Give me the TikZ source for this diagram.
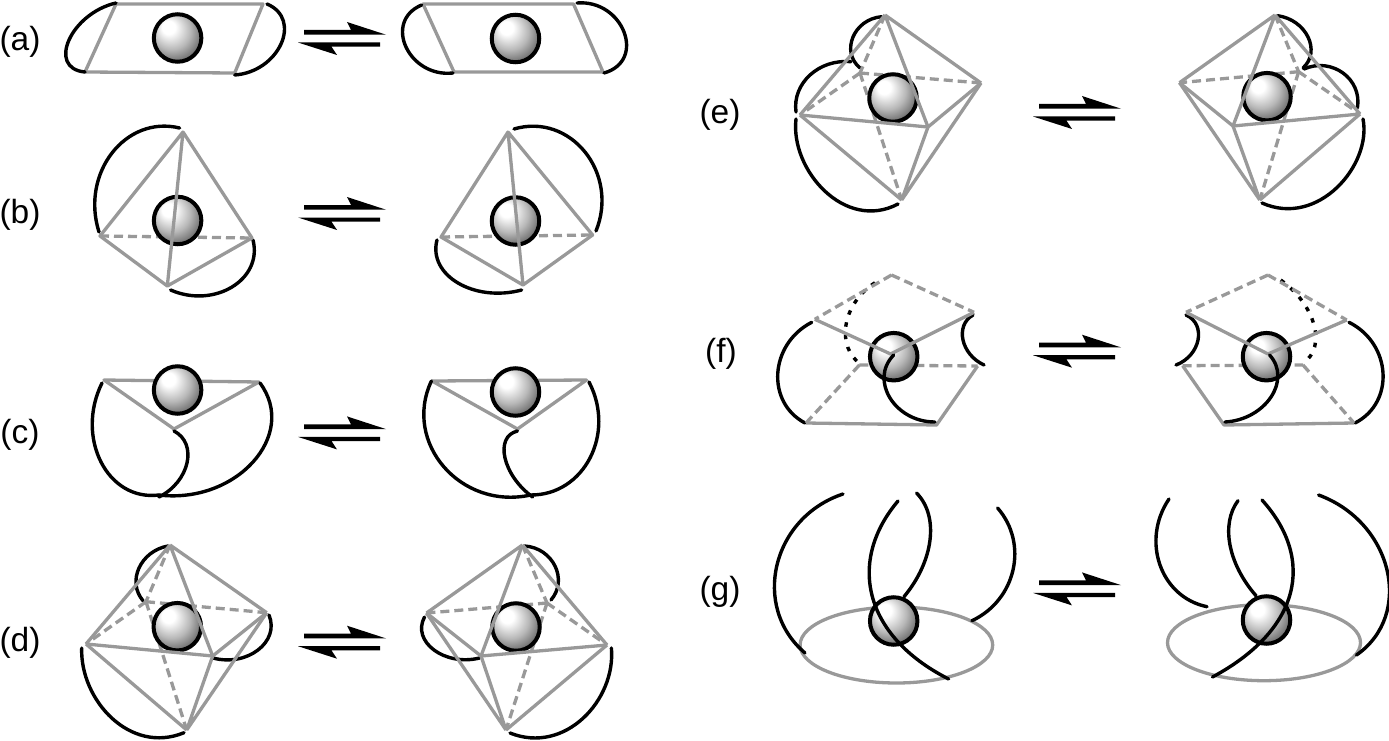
\documentclass[tikz,border=0pt]{standalone}
\usepackage{fontspec}
\setmainfont{Liberation Sans}
\definecolor{edgegray}{HTML}{999999}
\pgfdeclareradialshading{orb}{\pgfpoint{-11bp}{13bp}}{color(0bp)=(white); color(7bp)=(white); color(20bp)=(black!28); color(32bp)=(black!62); color(44bp)=(black!85); color(50bp)=(black!95)}
\tikzset{
  blk/.style={line width=3.4pt,black,line cap=round},
  blkdash/.style={line width=3.4pt,black,dash pattern=on 4.5pt off 8pt},
  solidedge/.style={line width=3.3pt,edgegray,line join=round},
  dashedge/.style={line width=3.3pt,edgegray,dash pattern=on 9pt off 5pt},
  orbnode/.style={circle,draw=black,line width=4pt,minimum size=47.5pt,inner sep=0pt,outer sep=0pt,shade,shading=orb},
  lab/.style={inner sep=0pt,font=\fontsize{33.5}{36}\selectfont,text=black},
  halfarrow/.style={fill=black,draw=none}
}
% equilibrium arrows, placed by their shift from row (a)
\newcommand{\eqarrows}[2]{%
  \begin{scope}[shift={(#1,#2)}]
    \fill[halfarrow] (304,30)--(351,30)--(347,22)--(386,34.7)--(304,34.7)--cycle;
    \fill[halfarrow] (380,42.5)--(298,42.5)--(337,55)--(331.5,46.7)--(380,46.7)--cycle;
  \end{scope}}
% single cubic from A through M to B
\newcommand{\ac}[7][blk]{%
  \pgfmathsetmacro\acR{veclen(#4-(#2+#6)/2,#5-(#3+#7)/2)/(veclen(#2-#6,#3-#7)/2)}%
  \pgfmathsetmacro\acL{1/6+min(1,\acR*\acR)/3}%
  \pgfmathsetmacro\acAx{4/3*#4-(#2+#6)/6+\acL*(#2-#6)}%
  \pgfmathsetmacro\acAy{4/3*#5-(#3+#7)/6+\acL*(#3-#7)}%
  \pgfmathsetmacro\acBx{4/3*#4-(#2+#6)/6-\acL*(#2-#6)}%
  \pgfmathsetmacro\acBy{4/3*#5-(#3+#7)/6-\acL*(#3-#7)}%
  \draw[#1] (#2,#3) .. controls (\acAx,\acAy) and (\acBx,\acBy) .. (#6,#7);}
% octahedron: a=apex r=right l=left f=front b=bottom h=hidden
\newcommand{\octadash}[1]{%
  \draw[dashedge] (#1a)--(#1h);
  \draw[dashedge] (#1h)--(#1l);
  \draw[dashedge] (#1h)--(#1r);
  \draw[dashedge] (#1h)--(#1b);}
\newcommand{\octasolid}[1]{%
  \draw[solidedge] (#1a)--(#1l) (#1a)--(#1r) (#1a)--(#1f);
  \draw[solidedge] (#1l)--(#1f) (#1f)--(#1r);
  \draw[solidedge] (#1l)--(#1b) (#1f)--(#1b) (#1r)--(#1b);}
\begin{document}
\begin{tikzpicture}[x=1pt,y=-1pt]
\path[use as bounding box] (0,0) rectangle (1389,741);
% labels
\node[lab] (la) at (20,42) {(a)};
\node[lab] (lb) at (20,215) {(b)};
\node[lab] (lc) at (20,435) {(c)};
\node[lab] (ld) at (20,643) {(d)};
\node[lab] (le) at (720,115) {(e)};
\node[lab] (lf) at (721,354) {(f)};
\node[lab] (lg) at (720,592) {(g)};
% arrows
\eqarrows{0}{0}\eqarrows{0}{175}\eqarrows{0}{394.4}\eqarrows{0}{603.7}
\eqarrows{735}{74}\eqarrows{735}{312.7}\eqarrows{735}{550.4}

% ---------- (a)
\coordinate (p1) at (116,4); \coordinate (p2) at (263,4); \coordinate (p3) at (234.7,73); \coordinate (p4) at (85,72);
\draw[solidedge] (p1)--(p2)--(p3)--(p4)--cycle;
\ac{116}{3}{69}{40}{85}{72}
\ac{267}{4}{281}{44}{234.7}{75}
\node[orbnode] (ba1) at (177.6,38) {};
\coordinate (q1) at (423,4); \coordinate (q2) at (573.5,4); \coordinate (q3) at (603,72); \coordinate (q4) at (454,72);
\draw[solidedge] (q1)--(q2)--(q3)--(q4)--cycle;
\ac{421.6}{5}{406}{47}{453}{73}
\ac{577}{3}{624}{32}{604}{73}
\node[orbnode] (ba2) at (515.5,38.5) {};

% ---------- (b)
\coordinate (b1a) at (183,132); \coordinate (b1l) at (100,236); \coordinate (b1r) at (252,238); \coordinate (b1b) at (167.3,286);
\ac{179.6}{128}{112}{153}{99}{232}
\ac{253}{240}{232}{287}{170.6}{290}
\draw[dashedge] (b1l)--(b1r);
\node[orbnode] (bb1) at (177.6,220.5) {};
\draw[solidedge] (b1a)--(b1l)--(b1b)--(b1r)--(b1a)--(b1b);
\coordinate (b2a) at (508,132); \coordinate (b2l) at (441,237); \coordinate (b2r) at (592.6,235); \coordinate (b2b) at (523,285);
\ac{514}{129}{585}{152}{596}{231}
\ac{437}{240}{458}{283}{521.6}{290}
\draw[dashedge] (b2l)--(b2r);
\node[orbnode] (bb2) at (515.5,221) {};
\draw[solidedge] (b2a)--(b2l)--(b2b)--(b2r)--(b2a)--(b2b);

% ---------- (c)
\coordinate (c1l) at (104,380); \coordinate (c1r) at (259,382); \coordinate (c1i) at (174,429);
\draw[solidedge] (c1l)--(c1r)--(c1i)--cycle;
\node[orbnode] (bc1) at (177.6,390) {};
\ac{102}{383}{101}{462}{159}{495}
\ac{260}{383}{253}{462}{159}{495}
\ac{174}{431}{187}{463}{159}{497}
\coordinate (c2l) at (432,381); \coordinate (c2r) at (586.5,380); \coordinate (c2i) at (517.5,429);
\draw[solidedge] (c2l)--(c2r)--(c2i)--cycle;
\node[orbnode] (bc2) at (515.5,392) {};
\ac{431.4}{381}{444}{467}{530.6}{495}
\ac{589}{382}{590}{458}{530.6}{495}
\ac{517.5}{431}{505}{458}{532.6}{497}

% ---------- (d)
\coordinate (d1a) at (170,545); \coordinate (d1r) at (266.7,612.7); \coordinate (d1l) at (86,644);
\coordinate (d1f) at (212.7,656); \coordinate (d1b) at (186.7,730); \coordinate (d1h) at (146,601.7);
\ac{168}{546}{139}{568}{143}{600.7}
\ac{269}{615}{258}{650}{213}{658}
\draw[blk] (81.7,648) .. controls (80,700) and (130,755) .. (184,732.7);
\octadash{d1}
\node[orbnode] (bd1) at (177.3,626.7) {};
\octasolid{d1}
\coordinate (d2a) at (522.4,545); \coordinate (d2r) at (607,645); \coordinate (d2l) at (426.5,613);
\coordinate (d2f) at (481,656); \coordinate (d2b) at (506,730); \coordinate (d2h) at (547,603);
\ac{524.5}{546}{555}{566}{551}{600}
\ac{424.5}{617}{434}{650}{479.6}{658}
\draw[blk] (611.4,648) .. controls (616,700) and (565,755) .. (510,733);
\octadash{d2}
\node[orbnode] (bd2) at (516,627) {};
\octasolid{d2}

% ---------- (e)
\coordinate (e1a) at (885,15); \coordinate (e1r) at (981,83); \coordinate (e1l) at (800,115);
\coordinate (e1f) at (928,127); \coordinate (e1b) at (901.7,200); \coordinate (e1h) at (860,73);
\ac{881.7}{16.7}{853}{37}{860}{68}
\ac{796}{112}{810}{75}{851}{61.7}
\draw[blk] (796,119) .. controls (790,170) and (845,232) .. (898,204);
\octadash{e1}
\node[orbnode] (be1) at (893,98) {};
\octasolid{e1}
\coordinate (e2a) at (1275,15); \coordinate (e2r) at (1360,114); \coordinate (e2l) at (1179.5,82.7);
\coordinate (e2f) at (1233,126); \coordinate (e2b) at (1259.8,200); \coordinate (e2h) at (1298.6,71.7);
\ac{1277.6}{15.7}{1308}{37}{1303}{68}
\ac{1304}{69}{1343}{73}{1357.4}{108}
\draw[blk] (1363,119) .. controls (1372,165) and (1318,228) .. (1262,203);
\octadash{e2}
\node[orbnode] (be2) at (1267,96.7) {};
\octasolid{e2}

% ---------- (f)
\coordinate (f1t) at (891.5,275); \coordinate (f1p) at (814.8,319.3); \coordinate (f1q) at (974,312.3);
\coordinate (f1c) at (890.6,354); \coordinate (f1m) at (859.4,365); \coordinate (f1n) at (977.6,366);
\coordinate (f1s) at (806,423); \coordinate (f1u) at (936.5,425);
\ac[blkdash]{875}{282.7}{846}{325}{861.6}{365}
\ac{811.7}{322.3}{777.8}{373}{805}{423}
\ac{973}{315}{963}{340}{984}{365}
\draw[dashedge] (f1t)--(f1p) (f1t)--(f1q) (f1m)--(f1n) (f1m)--(f1s);
\node[orbnode] (bf1) at (893.7,356.7) {};
\draw[solidedge] (f1p)--(f1c)--(f1q);
\draw[solidedge] (f1n)--(f1u)--(f1s);
\ac{893.7}{355}{890}{398}{935}{422}
\coordinate (f2t) at (1268,275); \coordinate (f2p) at (1186,312.3); \coordinate (f2q) at (1346.7,320);
\coordinate (f2c) at (1268,354); \coordinate (f2m) at (1182.6,365.7); \coordinate (f2n) at (1303,365);
\coordinate (f2s) at (1224,425); \coordinate (f2u) at (1354,423);
\ac[blkdash]{1280.7}{280}{1314}{325}{1303}{363}
\ac{1349}{322.3}{1383}{373}{1355}{423}
\ac{1186}{315}{1198}{340}{1176}{365}
\draw[dashedge] (f2t)--(f2p) (f2t)--(f2q) (f2m)--(f2n) (f2n)--(f2u);
\node[orbnode] (bf2) at (1266.5,356.7) {};
\draw[solidedge] (f2p)--(f2c)--(f2q);
\draw[solidedge] (f2m)--(f2s)--(f2u);
\ac{1269.6}{355}{1271}{397}{1225}{422}

% ---------- (g)
\draw[solidedge] (896.4,645) ellipse [x radius=96.3,y radius=38];
\ac{843}{494}{777}{565}{805}{653}
\ac{916.5}{493}{930}{540}{904}{596.7}
\ac{997.6}{508}{1013}{570}{972}{620.7}
\node[orbnode] (bg1) at (893.7,621) {};
\draw[blk] (898,501) .. controls (848,560) and (862,635) .. (948.6,679);
\draw[solidedge] (1264,642.7) ellipse [x radius=96.5,y radius=38];
\ac{1169}{499}{1160}{565}{1207}{606.7}
\ac{1238}{500.7}{1230}{545}{1256}{595.7}
\ac{1318.6}{495}{1387}{570}{1356.5}{655}
\node[orbnode] (bg2) at (1266.5,620) {};
\draw[blk] (1262,500) .. controls (1316,560) and (1300,630) .. (1212.5,677);
\end{tikzpicture}
\end{document}
